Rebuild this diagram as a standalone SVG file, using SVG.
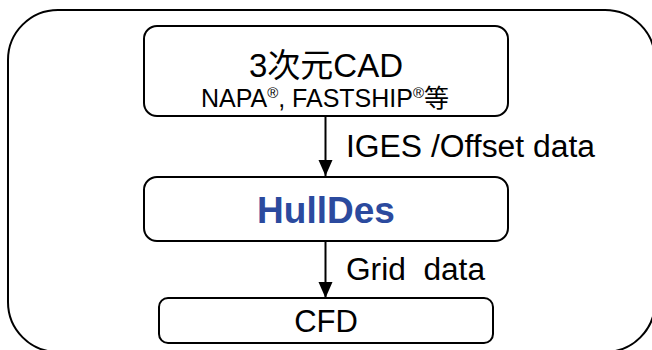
<svg xmlns="http://www.w3.org/2000/svg" width="652" height="350" viewBox="0 0 652 350">
  <style>
    .box { fill: #ffffff; stroke: #000000; stroke-width: 2; }
    .t { font-family: "Liberation Sans", Arial, "Noto Sans CJK JP", sans-serif; fill: #000000; text-anchor: middle; }
    .lbl { font-family: "Liberation Sans", Arial, sans-serif; fill: #000000; font-size: 31px; }
    .conn { stroke: #000000; stroke-width: 2; fill: none; }
  </style>
  <defs>
    <marker id="arrow" markerUnits="userSpaceOnUse" markerWidth="16" markerHeight="18" refX="16" refY="7" orient="auto">
      <path d="M0,0 L16,7 L0,14 Z" fill="#000000"/>
    </marker>
  </defs>
  <rect width="652" height="350" fill="#ffffff"/>
  <g id="frame">
    <rect x="8" y="10" width="647" height="342" rx="50" ry="50" fill="none" stroke="#000000" stroke-width="2"/>
  </g>
  <g id="connectors">
    <line class="conn" x1="325.5" y1="117" x2="325.5" y2="176" marker-end="url(#arrow)"/>
    <line class="conn" x1="325.5" y1="242" x2="325.5" y2="298" marker-end="url(#arrow)"/>
    <text class="lbl" x="346" y="157" textLength="249" lengthAdjust="spacingAndGlyphs">IGES /Offset data</text>
    <text class="lbl" x="346" y="280" xml:space="preserve" textLength="139" lengthAdjust="spacingAndGlyphs">Grid  data</text>
  </g>
  <g id="cad">
    <rect class="box" x="144" y="26" width="364" height="90" rx="13" ry="13"/>
    <text class="t" x="326" y="77" font-size="33">3次元CAD</text>
    <text class="t" x="325" y="107" font-size="25">NAPA<tspan font-size="15" dy="-9">®</tspan><tspan dy="9">, FASTSHIP</tspan><tspan font-size="15" dy="-9">®</tspan><tspan dy="9">等</tspan></text>
  </g>
  <g id="hulldes">
    <rect class="box" x="144" y="177" width="364" height="64" rx="13" ry="13"/>
    <text class="t" x="326" y="222.5" font-size="37" font-weight="bold" style="fill:#2B4A9E">HullDes</text>
  </g>
  <g id="cfd">
    <rect class="box" x="159" y="298" width="334" height="45" rx="9" ry="9"/>
    <text class="t" x="326" y="332" font-size="31">CFD</text>
  </g>
</svg>
